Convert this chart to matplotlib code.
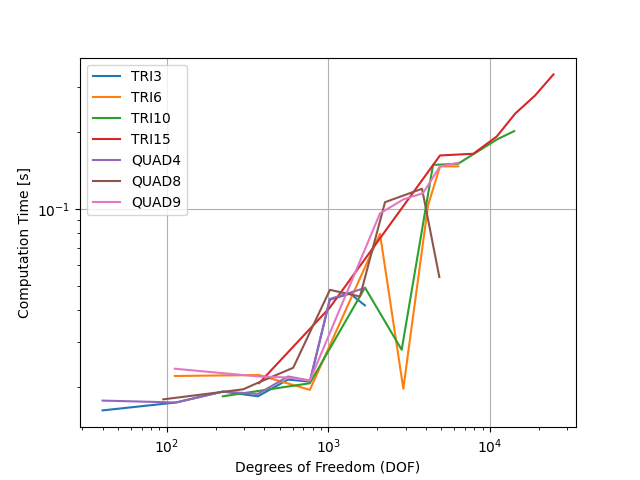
import numpy as np
import matplotlib
matplotlib.use('Agg')
import matplotlib.pyplot as plt

# DOF / time per element type
tri3_dof = [40, 114, 222, 366, 562, 768, 1020, 1360, 1680]
tri3_t = [0.0162, 0.0174, 0.0192, 0.0184, 0.0214, 0.0210, 0.0440, 0.0465, 0.0418]

tri6_dof = [112, 371, 767, 2084, 2905, 4130, 4900, 6360]
tri6_t = [0.0221, 0.0223, 0.0195, 0.0798, 0.0197, 0.1030, 0.1466, 0.1466]

tri10_dof = [222, 767, 1682, 2838, 4436, 6340, 7850, 11040, 14090]
tri10_t = [0.0184, 0.0207, 0.0491, 0.0280, 0.1486, 0.1501, 0.1634, 0.1870, 0.2015]

tri15_dof = [372, 1020, 4900, 7880, 11000, 14280, 19000, 24670]
tri15_t = [0.0207, 0.0410, 0.1618, 0.1643, 0.1920, 0.2358, 0.2781, 0.3363]

quad4_dof = [40, 114, 222, 366, 562, 768, 1020, 1680]
quad4_t = [0.0177, 0.0174, 0.0192, 0.0188, 0.0220, 0.0212, 0.0443, 0.0489]

quad8_dof = [95, 297, 367, 605, 1021, 1566, 2238, 3793, 4853]
quad8_t = [0.0179, 0.0196, 0.0208, 0.0238, 0.0481, 0.0453, 0.1061, 0.1198, 0.0540]

quad9_dof = [112, 371, 562, 767, 2084, 2905, 3845, 4900, 6360]
quad9_t = [0.0236, 0.0220, 0.0218, 0.0212, 0.0959, 0.1088, 0.1151, 0.1466, 0.1515]

series = [
    ('TRI3', tri3_dof, tri3_t),
    ('TRI6', tri6_dof, tri6_t),
    ('TRI10', tri10_dof, tri10_t),
    ('TRI15', tri15_dof, tri15_t),
    ('QUAD4', quad4_dof, quad4_t),
    ('QUAD8', quad8_dof, quad8_t),
    ('QUAD9', quad9_dof, quad9_t),
]

plt.figure(figsize=(6.4, 4.8), dpi=100)
for name, dof, t in series:
    plt.loglog(dof, t, label=name)

plt.xlabel('Degrees of Freedom (DOF)')
plt.ylabel('Computation Time [s]')
plt.grid()
plt.legend(loc='upper left')
plt.savefig('out.png')
